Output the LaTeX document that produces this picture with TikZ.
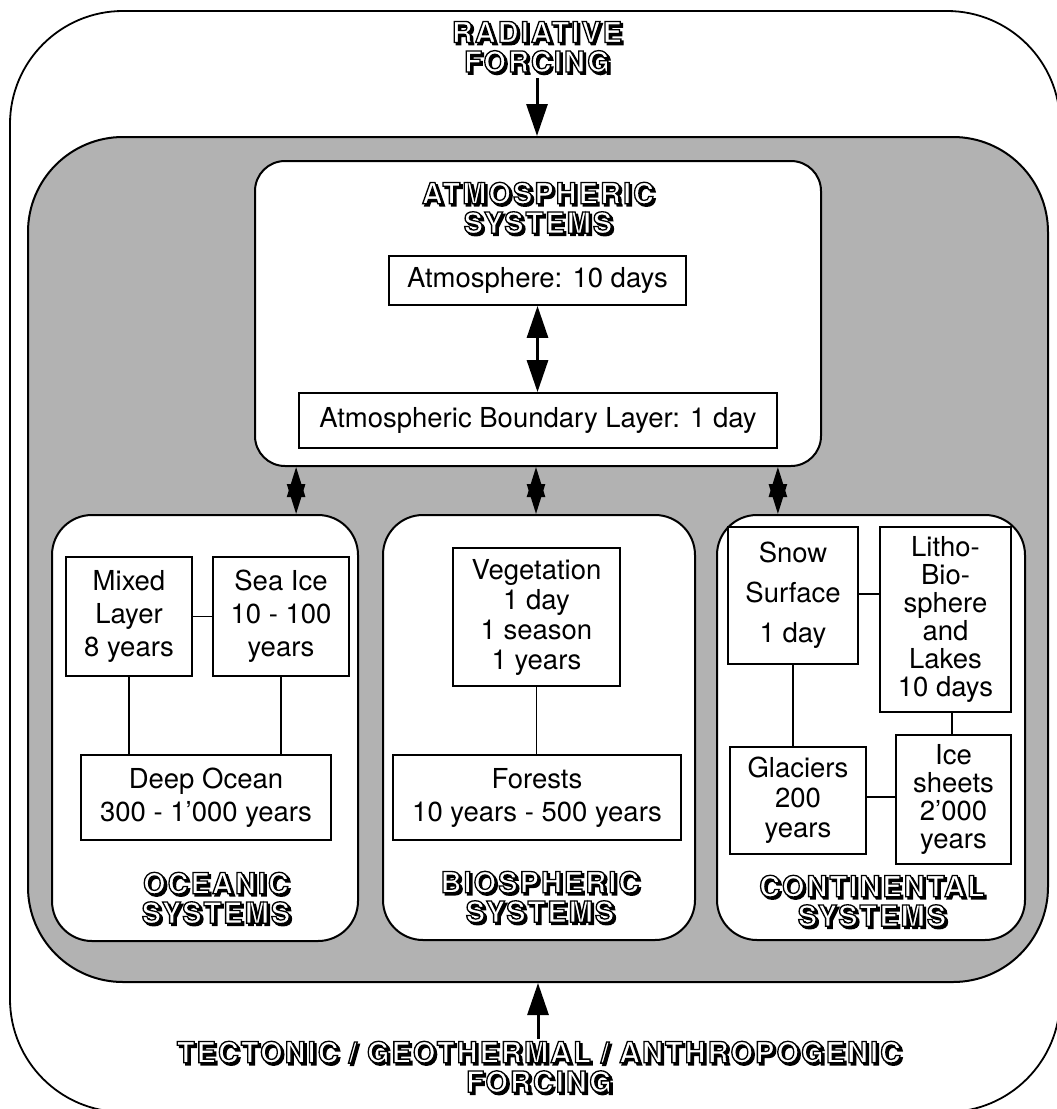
\documentclass[tikz,border=0pt]{standalone}
\usepackage{fontspec}
\setmainfont{TeX Gyre Heros}
\newfontfamily\hdfont{TeX Gyre Heros}[LetterSpace=7]
\usetikzlibrary{arrows.meta}
\newcommand\hdline[1]{\leavevmode\rlap{\kern2.2pt\raisebox{-2.2pt}{\special{pdf:literal direct 0 0 0 RG 0 0 0 rg 2 Tr 1.4 w}#1\special{pdf:literal direct 0 Tr}}}{\special{pdf:literal direct 0 0 0 RG 1 1 1 rg 2 Tr 1.3 w}#1\special{pdf:literal direct 0 Tr 0 0 0 rg}}}
\begin{document}
\begin{tikzpicture}[x=1pt,y=-1pt,
  box/.style={draw, line width=1.8pt, fill=white, align=center, inner sep=0pt},
  bodyfont/.style={font=\fontsize{27.5}{#1}\selectfont},
  sysbox/.style={draw, line width=2pt, fill=white, rounded corners=#1, inner sep=0pt},
  ln/.style={line width=1.7pt},
  bigarrow/.style={line width=3pt, -{Triangle[length=32pt,width=21pt]}},
  atmarrow/.style={line width=3pt, {Triangle[length=32pt,width=21pt]}-{Triangle[length=32pt,width=21pt]}},
  dblarrow/.style={line width=2.5pt, {Triangle[length=30pt,width=18pt]}-{Triangle[length=30pt,width=18pt]}},
  hd/.style={font=\hdfont\bfseries\fontsize{29}{29.5}\selectfont, align=center, inner sep=0pt}]
\useasboundingbox (0,0) rectangle (1057,1109);
\fill[white] (0,0) rectangle (1057,1109);
% outer and inner frames
\node[draw, line width=1.8pt, rounded corners=113pt, minimum width=1050pt, minimum height=1101pt, inner sep=0pt] (outer) at (535,561.5) {};
\node[draw, line width=2pt, fill=black!30, rounded corners=95pt, minimum width=1020pt, minimum height=845pt, inner sep=0pt] (inner) at (538,559.5) {};
% system boxes
\node[sysbox=30pt, minimum width=566pt, minimum height=305pt] (atmsys) at (538,313.5) {};
\node[sysbox=40pt, minimum width=306pt, minimum height=426pt] (ocean) at (205,728) {};
\node[sysbox=40pt, minimum width=312pt, minimum height=425pt] (bio) at (539,727.5) {};
\node[sysbox=40pt, minimum width=308pt, minimum height=425pt] (cont) at (871,727.5) {};
% headings
\node[hd] (radtext) at (537,48) {\hdline{RADIATIVE}\\\hdline{FORCING}};
\node[hd] (atmtext) at (538,209) {\hdline{ATMOSPHERIC}\\\hdline{SYSTEMS}};
\node[hd] (oceantext) at (216,899) {\hdline{OCEANIC}\\\hdline{SYSTEMS}};
\node[hd] (biotext) at (540,898) {\hdline{BIOSPHERIC}\\\hdline{SYSTEMS}};
\node[hd] (conttext) at (872,902) {\hdline{CONTINENTAL}\\\hdline{SYSTEMS}};
\node[hd] (tectext) at (539,1068) {\hdline{TECTONIC / GEOTHERMAL / ANTHROPOGENIC}\\\hdline{FORCING}};
% atmospheric components
\node[box, bodyfont=31, minimum width=297pt, minimum height=49pt] (atmos) at (537.5,280.5) {Atmosphere: 10 days};
\node[box, bodyfont=31, minimum width=478pt, minimum height=55pt] (abl) at (538,420.5) {Atmospheric Boundary Layer: 1 day};
% oceanic components
\node[box, bodyfont=33, minimum width=126pt, minimum height=119pt] (mixed) at (129,616.5) {Mixed\\Layer\\8 years};
\node[box, bodyfont=33, minimum width=136pt, minimum height=119pt] (seaice) at (281,616.5) {Sea Ice\\10 - 100\\years};
\node[box, bodyfont=33, minimum width=250pt, minimum height=85pt] (deep) at (206,797.5) {Deep Ocean\\300 - 1'000 years};
% biospheric components
\node[box, bodyfont=30, minimum width=167pt, minimum height=138pt] (veg) at (536.5,617) {Vegetation\\1 day\\1 season\\1 years};
\node[box, bodyfont=33, minimum width=288pt, minimum height=85pt] (forests) at (537,797.5) {Forests\\10 years - 500 years};
% continental components
\node[box, bodyfont=40, minimum width=130pt, minimum height=137pt] (snow) at (793,595.5) {Snow\\Surface\\1 day};
\node[box, bodyfont=28, minimum width=131pt, minimum height=185pt] (litho) at (945.5,619.5) {Litho-\\Bio-\\sphere\\and\\Lakes\\10 days};
\node[box, bodyfont=30, minimum width=136pt, minimum height=107pt] (glac) at (798,800.5) {Glaciers\\200\\years};
\node[box, bodyfont=28, minimum width=115pt, minimum height=129pt] (icesh) at (953.5,799.5) {Ice\\sheets\\2'000\\years};
% connectors
\draw[ln] (mixed.east) -- (seaice.west);
\draw[ln] (mixed.south) -- (mixed.south |- deep.north);
\draw[ln] (seaice.south) -- (seaice.south |- deep.north);
\draw[ln] (veg.south) -- (veg.south |- forests.north);
\draw[ln] ([yshift=1.5pt]snow.east) -- ([yshift=1.5pt]snow.east -| litho.west);
\draw[ln] (snow.south) -- (snow.south |- glac.north);
\draw[ln] ([xshift=-1.5pt]icesh.north |- litho.south) -- ([xshift=-1.5pt]icesh.north);
\draw[ln] ([yshift=3.5pt]glac.east) -- ([yshift=3.5pt]glac.east -| icesh.west);
% arrows
\coordinate (radtail) at (537,78);
\draw[bigarrow] (radtail) -- (radtail |- inner.north);
\coordinate (tectail) at (538,1039);
\draw[bigarrow] (tectail) -- (tectail |- inner.south);
\draw[atmarrow] (atmos.south) -- (atmos.south |- abl.north);
\draw[dblarrow] ([xshift=-2pt]abl.west |- atmsys.south) -- ([xshift=-2pt]abl.west |- ocean.north);
\draw[dblarrow] ([xshift=-2pt]atmsys.south) -- ([xshift=-2pt]atmsys.south |- bio.north);
\draw[dblarrow] (abl.east |- atmsys.south) -- (abl.east |- cont.north);
\end{tikzpicture}
\end{document}
